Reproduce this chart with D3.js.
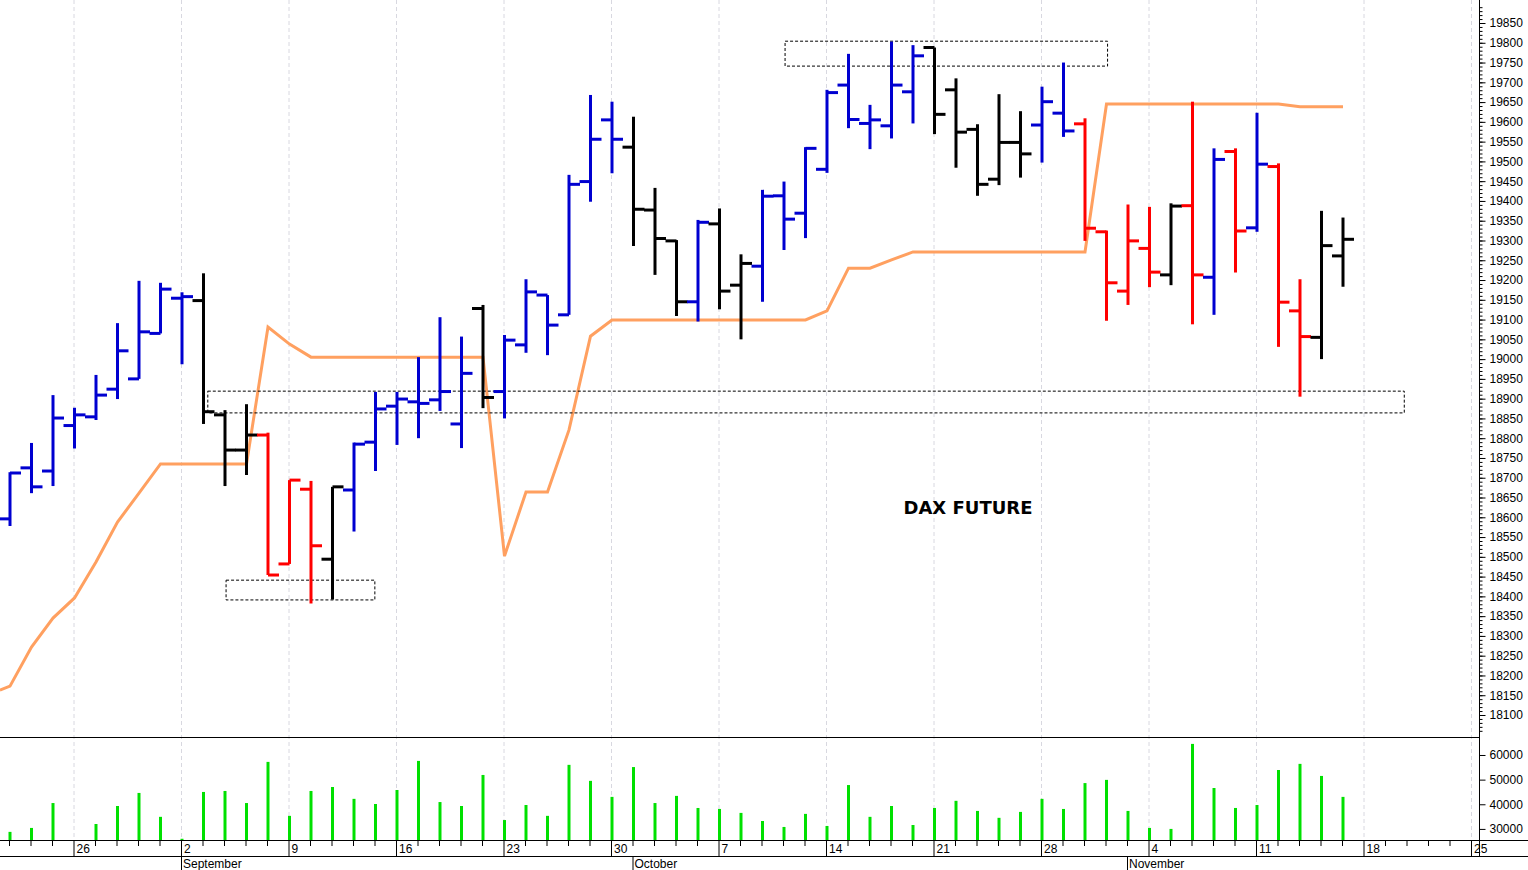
<!doctype html>
<html>
<head>
<meta charset="utf-8">
<style>
  body { margin: 0; background: #fff; }
  text { font-family: "Liberation Sans", Arial, sans-serif; }
</style>
</head>
<body>
<script src="https://cdn.jsdelivr.net/npm/d3@7"></script>
<script>
// trading days, Aug 21 .. Nov 15 (index = bar slot)
var dayLabels = ["26", "2", "9", "16", "23", "30", "7", "14", "21", "28", "4", "11", "18", "25"];
var dayIndex  = [3, 8, 13, 18, 23, 28, 33, 38, 43, 48, 53, 58, 63, 68];
var monthLabels = ["September", "October", "November"];
var monthIndex  = [8, 29, 52];

var opens  = [18596,18725,18717,18832,18854,18924,18950,19065,19154,19148,18859,18770,18808,18482,18671,18494,18669,18790,18881,18892,18897,18836,19128,18918,19036,19162,19112,19449,19605,19536,19377,19299,19145,19342,19187,19235,19413,19369,19480,19693,19596,19590,19676,19788,19681,19581,19455,19548,19592,19622,19595,19322,19172,19280,19213,19388,19207,19525,19332,19487,19122,19055,19261];
var highs  = [18714,18788,18909,18877,18960,19091,19198,19193,19169,19217,18871,18886,18814,18694,18692,18677,18789,18917,18917,19005,19106,19057,19137,19061,19202,19162,19466,19668,19651,19613,19433,19301,19352,19381,19265,19428,19449,19536,19681,19772,19643,19803,19794,19788,19710,19594,19670,19627,19689,19750,19609,19325,19391,19385,19394,19651,19533,19533,19623,19495,19202,19375,19358];
var lows   = [18578,18661,18679,18774,18846,18899,18950,19065,18987,18836,18679,18707,18454,18482,18382,18392,18564,18717,18783,18800,18869,18775,18876,18850,19016,19010,19112,19398,19470,19286,19213,19109,19095,19126,19050,19145,19276,19306,19471,19584,19531,19558,19596,19569,19484,19413,19440,19459,19497,19562,19299,19097,19137,19182,19187,19088,19112,19219,19322,19031,18905,19000,19183];
var closes = [18712,18677,18851,18859,18909,19021,19069,19177,19158,18867,18770,18808,18454,18694,18528,18677,18785,18874,18899,18888,18918,18964,18903,19048,19170,19086,19442,19556,19556,19379,19305,19145,19346,19172,19242,19412,19354,19533,19674,19606,19605,19693,19767,19619,19574,19442,19548,19519,19651,19577,19331,19193,19299,19220,19387,19213,19505,19324,19493,19144,19057,19287,19303];
// b = blue, k = black, r = red
var barColors = "bbbbbbbbbkkkrrrkbbbbbbkbbbbbbkkkbkkbbbbbbbbkkkkkbbrrrrkrbrbrrkk".split("");
var trendStart = 18163; // value where the line enters at the left edge
var trend = [18173,18272,18345,18396,18487,18588,18661,18735,18735,18735,18735,18735,19081,19038,19005,19005,19005,19005,19005,19005,19005,19005,19005,18502,18664,18664,18821,19058,19099,19099,19099,19099,19099,19099,19099,19099,19099,19099,19122,19230,19230,19251,19271,19271,19271,19271,19271,19271,19271,19271,19271,19645,19645,19645,19645,19645,19645,19645,19645,19645,19638,19638,19638];
var volumes = [28800,30400,40500,25500,32000,39300,44600,34900,26000,45000,45400,40500,57200,35300,45400,47000,42200,40100,45800,57600,40900,39300,51900,33600,39700,35300,56000,49500,43000,55100,40500,43400,38500,38100,36500,33200,30800,36100,31200,47800,34900,39300,31600,38500,41400,37300,34500,36900,42200,38100,48600,49900,37300,30400,30000,64500,46600,38500,39700,53900,56400,51500,43000];
// annotation boxes: [startIndex, endIndex, low, high]
var boxes = [[36.05, 51.05, 19741, 19804], [9.2, 64.85, 18864, 18919], [10.05, 16.97, 18391, 18441]];

var colorMap = { b: "#0000d0", k: "#000", r: "#ff0000" };
var width = 1528, height = 870, axisX = 1479;

var svg = d3.select("body").append("svg").attr("width", width).attr("height", height);

var x = d3.scaleLinear().domain([0, 62]).range([10, 1343]);
var y = d3.scaleLinear().domain([18100, 19850]).range([715, 23]);
var yv = d3.scaleLinear().domain([25500, 67300]).range([840, 737]);

// weekly grid
svg.selectAll(".grid").data(dayIndex).enter().append("line")
    .attr("x1", function (d) { return x(d) - 0.5; }).attr("x2", function (d) { return x(d) - 0.5; })
    .attr("y1", 0).attr("y2", 840)
    .attr("stroke", "#d8d8e0").attr("stroke-dasharray", "4,3");

// trend line
var trendPts = [[-0.47, trendStart]].concat(trend.map(function (d, i) { return [i, d]; }));
svg.append("path").datum(trendPts)
    .attr("fill", "none").attr("stroke", "#ffa060").attr("stroke-width", 3)
    .attr("d", d3.line().x(function (d) { return x(d[0]); }).y(function (d) { return y(d[1]); }));

// boxes
svg.selectAll(".box").data(boxes).enter().append("rect")
    .attr("x", function (d) { return x(d[0]); })
    .attr("width", function (d) { return x(d[1]) - x(d[0]); })
    .attr("y", function (d) { return y(d[3]); })
    .attr("height", function (d) { return y(d[2]) - y(d[3]); })
    .attr("fill", "none").attr("stroke", "#000").attr("stroke-dasharray", "3,2");

// ohlc bars
var bars = svg.selectAll(".bar").data(opens).enter().append("g")
    .attr("stroke", function (d, i) { return colorMap[barColors[i]]; })
    .attr("stroke-width", 3);
bars.append("line")
    .attr("x1", function (d, i) { return x(i); }).attr("x2", function (d, i) { return x(i); })
    .attr("y1", function (d, i) { return y(highs[i]); }).attr("y2", function (d, i) { return y(lows[i]); });
bars.append("line")
    .attr("x1", function (d, i) { return x(i) - 11; }).attr("x2", function (d, i) { return x(i); })
    .attr("y1", function (d) { return y(d); }).attr("y2", function (d) { return y(d); });
bars.append("line")
    .attr("x1", function (d, i) { return x(i); }).attr("x2", function (d, i) { return x(i) + 11; })
    .attr("y1", function (d, i) { return y(closes[i]); }).attr("y2", function (d, i) { return y(closes[i]); });

svg.append("text").attr("x", 968).attr("y", 514).attr("text-anchor", "middle")
    .style("font-family", "'DejaVu Sans', Verdana, sans-serif")
    .style("font-weight", "bold").style("font-size", "18px").text("DAX FUTURE");

// volume
svg.selectAll(".vol").data(volumes).enter().append("line")
    .attr("x1", function (d, i) { return x(i); }).attr("x2", function (d, i) { return x(i); })
    .attr("y1", 840).attr("y2", function (d) { return yv(d); })
    .attr("stroke", "#00e000").attr("stroke-width", 3);

// panel frame
svg.append("line").attr("x1", 0).attr("x2", axisX).attr("y1", 737.5).attr("y2", 737.5).attr("stroke", "#000");
svg.append("line").attr("x1", axisX + 0.5).attr("x2", axisX + 0.5).attr("y1", 0).attr("y2", 856).attr("stroke", "#000");

// price axis
var pAxis = svg.append("g").attr("transform", "translate(" + (axisX + 0.5) + ",0)")
    .call(d3.axisRight(y).tickValues(d3.range(18100, 19851, 50)).tickSize(6).tickFormat(d3.format("d")));
svg.append("g").attr("transform", "translate(" + (axisX + 0.5) + ",0)")
    .call(d3.axisRight(y).tickValues(d3.range(18060, 19900, 10)).tickSize(3).tickFormat(""))
    .select(".domain").remove();
pAxis.select(".domain").remove();
pAxis.selectAll("text").attr("x", 10).style("font-size", "12px").style("font-family", "'Liberation Sans', Arial");

var vAxis = svg.append("g").attr("transform", "translate(" + (axisX + 0.5) + ",0)")
    .call(d3.axisRight(yv).tickValues([30000, 40000, 50000, 60000]).tickSize(6).tickFormat(d3.format("d")));
vAxis.select(".domain").remove();
vAxis.selectAll("text").attr("x", 10).style("font-size", "12px").style("font-family", "'Liberation Sans', Arial");

// date axis
svg.append("line").attr("x1", 0).attr("x2", width).attr("y1", 840.5).attr("y2", 840.5).attr("stroke", "#000");
svg.append("line").attr("x1", 0).attr("x2", width).attr("y1", 856.5).attr("y2", 856.5).attr("stroke", "#000");
svg.selectAll(".dtick").data(d3.range(0, 69)).enter().append("line")
    .attr("x1", function (d) { return x(d) - 0.5; }).attr("x2", function (d) { return x(d) - 0.5; })
    .attr("y1", 840).attr("y2", function (d) { return dayIndex.indexOf(d) >= 0 ? 856 : 846; })
    .attr("stroke", "#000");
svg.selectAll(".dlab").data(dayLabels).enter().append("text")
    .attr("x", function (d, i) { return x(dayIndex[i]) + 2; }).attr("y", 853)
    .style("font-size", "12px").text(function (d) { return d; });
svg.selectAll(".mtick").data(monthIndex).enter().append("line")
    .attr("x1", function (d) { return x(d) - 0.5; }).attr("x2", function (d) { return x(d) - 0.5; })
    .attr("y1", 856).attr("y2", 870).attr("stroke", "#000");
svg.selectAll(".mlab").data(monthLabels).enter().append("text")
    .attr("x", function (d, i) { return x(monthIndex[i]) + 1; }).attr("y", 868)
    .style("font-size", "12px").text(function (d) { return d; });
</script>
</body>
</html>
